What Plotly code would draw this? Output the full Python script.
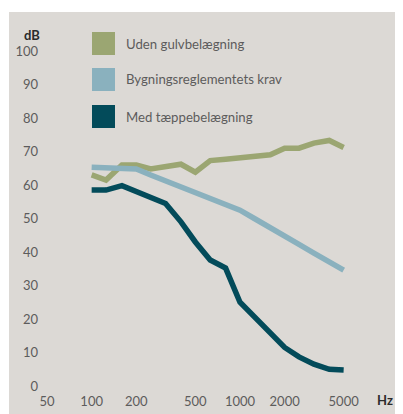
import plotly.graph_objects as go

# ---- data ----
freqs = [100, 125, 160, 200, 250, 315, 400, 500, 630, 800, 1000, 1250, 1600, 2000, 2500, 3150, 4000, 5000]
uden_gulv = [63.0, 61.5, 66.0, 66.0, 64.8, 65.5, 66.2, 63.8, 67.3, 67.7, 68.1, 68.5, 69.0, 71.0, 71.0, 72.5, 73.3, 71.2]
krav = [65.3, 65.1, 65.0, 64.8, 63.0, 61.3, 59.5, 57.8, 56.0, 54.3, 52.5, 50.0, 47.4, 44.9, 42.3, 39.7, 37.2, 34.6]
taeppe = [58.5, 58.5, 59.8, 58.0, 56.5, 54.5, 49.0, 43.0, 37.6, 35.2, 25.0, 20.6, 16.3, 11.5, 8.7, 6.5, 5.0, 4.8]

series_names = ["Uden gulvbelægning", "Bygningsreglementets krav", "Med tæppebelægning"]
series_values = [uden_gulv, krav, taeppe]
series_colors = ["#9ba672", "#8ab1be", "#034b5a"]

x_ticks = [50, 100, 200, 500, 1000, 2000, 5000]
y_ticks = [0, 10, 20, 30, 40, 50, 60, 70, 80, 90, 100]

# ---- layout geometry (window pixels; page body has an 8px margin) ----
OFF = 8
W, H = 403 - OFF, 414 - OFF
PLOT_L, PLOT_R, PLOT_T, PLOT_B = 47, 360, 20, 392  # window coords
L, T = PLOT_L - OFF, PLOT_T - OFF
R, B = W - (PLOT_R - OFF), H - (PLOT_B - OFF)
PW, PH = PLOT_R - PLOT_L, PLOT_B - PLOT_T
BG = "#dcd9d5"
TXT = "#5c5c5c"
FONT = "Lato"


def px(x):
    return (x - PLOT_L) / PW


def py(y):
    return (PLOT_B - y) / PH


fig = go.Figure()
for name, vals, col in zip(series_names, series_values, series_colors):
    fig.add_trace(go.Scatter(x=freqs, y=vals, mode="lines", name=name,
                             line=dict(color=col, width=5.5), showlegend=False))

shapes = [dict(type="rect", xref="paper", yref="paper", x0=px(9), x1=px(420),
               y0=py(430), y1=py(12), fillcolor=BG, line=dict(width=0), layer="below")]
annotations = []
leg_tops = [32, 68, 105]
for name, col, top in zip(series_names, series_colors, leg_tops):
    shapes.append(dict(type="rect", xref="paper", yref="paper", x0=px(92), x1=px(115),
                       y0=py(top + 23), y1=py(top), fillcolor=col, line=dict(width=0)))
    annotations.append(dict(xref="paper", yref="paper", x=px(124), y=py(top + 11.5),
                            text=name, showarrow=False, xanchor="left", yanchor="middle",
                            font=dict(family=FONT, size=13.2, color=TXT)))
annotations.append(dict(xref="paper", yref="paper", x=px(42), y=py(35), text="<b>dB</b>",
                        showarrow=False, xanchor="right", yanchor="middle",
                        font=dict(family=FONT, size=13, color="#2b2b2b")))
annotations.append(dict(xref="paper", yref="paper", x=px(385), y=py(400), text="<b>Hz</b>",
                        showarrow=False, xanchor="center", yanchor="middle",
                        font=dict(family=FONT, size=13, color="#2b2b2b")))

x0 = 1.69897  # log10(50)
pxdec = (344 - 92) / 1.69897
x1 = x0 + PW / pxdec

fig.update_layout(
    width=W, height=H,
    margin=dict(l=L, r=R, t=T, b=B, pad=0, autoexpand=False),
    paper_bgcolor="white", plot_bgcolor=BG,
    font=dict(family=FONT, size=13, color=TXT),
    shapes=shapes, annotations=annotations,
    xaxis=dict(type="log", range=[x0, x1], tickvals=x_ticks, ticktext=[str(v) for v in x_ticks],
               showgrid=False, zeroline=False, showline=False, ticks="", automargin=False,
               tickfont=dict(family=FONT, size=13, color=TXT)),
    yaxis=dict(range=[-(PLOT_B - 386) / 3.35, (386 - PLOT_T) / 3.35], tickvals=y_ticks,
               showgrid=False, zeroline=False, showline=False, ticks="", automargin=False,
               ticklabelstandoff=8,
               tickfont=dict(family=FONT, size=13, color=TXT)),
)

fig.write_html("out.html")
